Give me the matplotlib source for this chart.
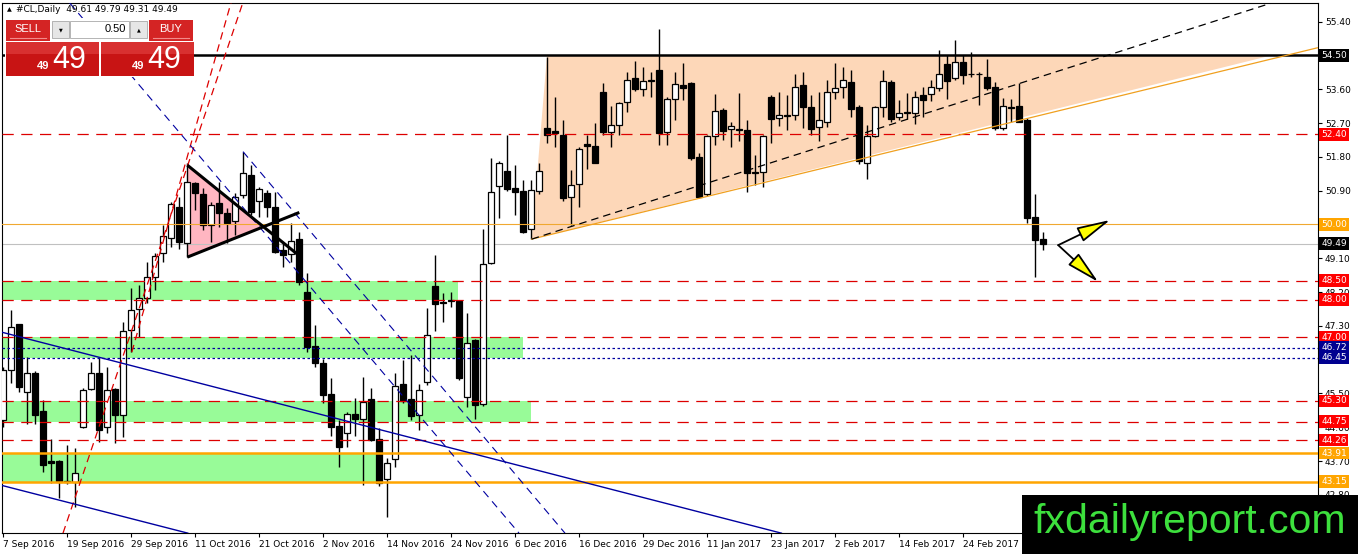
import matplotlib
matplotlib.use('Agg')
import matplotlib.pyplot as plt
from matplotlib.patches import Rectangle, Polygon, FancyArrowPatch
from matplotlib.transforms import blended_transform_factory
import numpy as np

# #CL daily bars, one entry per trading day
opens = [44.79, 46.12, 47.35, 45.55, 46.04, 45.02, 43.70, 43.70, 43.16, 43.15,
	44.62, 45.61, 46.04, 44.62, 45.61, 44.93, 47.19, 47.74, 48.03, 48.61,
	49.23, 49.63, 50.47, 49.50, 51.10, 50.81, 49.99, 50.56, 50.30, 50.08,
	50.79, 51.32, 50.63, 50.83, 50.47, 49.32, 49.21, 49.60, 48.21, 46.76,
	46.30, 45.48, 44.63, 44.44, 44.94, 44.81, 45.34, 44.30, 43.22, 43.75,
	45.74, 45.34, 44.93, 45.81, 48.36, 47.93, 47.98, 47.97, 45.41, 46.92,
	45.22, 48.97, 51.02, 51.43, 50.96, 50.90, 49.87, 50.90, 52.56, 52.49,
	52.38, 50.74, 51.08, 52.13, 52.09, 53.53, 52.47, 52.65, 53.27, 53.89,
	53.60, 53.86, 54.11, 52.47, 53.33, 53.71, 53.76, 51.81, 50.81, 52.36,
	53.05, 52.53, 52.53, 52.52, 51.39, 51.41, 53.40, 52.83, 52.92, 52.92,
	53.71, 53.12, 52.59, 52.74, 53.54, 53.67, 53.80, 53.12, 51.63, 52.36,
	53.12, 53.80, 52.87, 52.99, 52.98, 53.45, 53.47, 53.63, 54.27, 53.89,
	54.33, 54.02, 54.02, 53.92, 53.67, 52.56, 53.13, 53.15, 52.78, 50.19,
	49.61]
highs = [46.20, 47.72, 47.36, 46.48, 46.10, 45.33, 44.30, 43.72, 44.13, 44.04,
	45.64, 46.35, 46.48, 46.21, 45.64, 47.41, 48.30, 48.39, 49.01, 49.23,
	49.99, 50.61, 50.74, 51.63, 51.12, 50.96, 50.61, 51.14, 50.43, 50.83,
	51.94, 51.58, 51.01, 50.92, 50.87, 49.50, 50.03, 49.81, 48.70, 47.32,
	46.41, 45.90, 44.79, 45.01, 45.37, 45.95, 45.64, 44.57, 43.77, 46.04,
	46.39, 46.52, 45.75, 47.77, 49.19, 48.17, 48.21, 48.00, 47.63, 46.95,
	49.87, 51.76, 51.70, 52.38, 51.58, 51.18, 51.18, 51.63, 54.45, 53.40,
	52.78, 51.45, 52.05, 52.38, 52.71, 53.78, 53.15, 53.27, 54.07, 54.36,
	54.20, 54.07, 55.20, 53.40, 54.07, 54.31, 53.80, 51.90, 52.38, 53.47,
	53.09, 52.74, 53.51, 52.78, 51.85, 52.38, 53.45, 53.54, 53.45, 54.02,
	54.07, 53.45, 53.54, 53.86, 54.31, 54.20, 54.11, 53.18, 52.65, 53.15,
	54.11, 53.86, 53.31, 53.49, 53.56, 53.67, 53.85, 54.65, 54.51, 54.91,
	54.51, 54.58, 54.07, 54.40, 53.80, 53.36, 53.33, 53.76, 52.83, 50.81,
	49.79]
lows = [44.60, 45.77, 45.55, 44.70, 44.70, 43.42, 43.11, 42.71, 43.10, 42.48,
	44.57, 45.60, 44.22, 44.44, 44.17, 44.35, 46.61, 47.01, 47.90, 48.26,
	49.01, 49.41, 49.36, 49.14, 50.39, 49.85, 49.54, 49.94, 49.50, 49.72,
	50.70, 50.25, 50.21, 50.21, 49.23, 48.88, 49.01, 48.39, 46.61, 46.20,
	45.24, 44.37, 43.55, 44.08, 44.37, 43.06, 44.24, 43.04, 42.22, 43.53,
	45.25, 44.79, 44.54, 45.72, 47.15, 47.39, 47.81, 45.86, 45.15, 44.81,
	45.17, 48.95, 50.16, 50.90, 50.25, 49.78, 49.60, 50.81, 52.16, 52.07,
	50.63, 49.99, 50.47, 51.49, 51.63, 52.38, 52.05, 52.38, 53.00, 53.56,
	53.42, 53.40, 52.12, 52.12, 52.78, 53.31, 51.72, 50.70, 50.76, 52.12,
	52.25, 52.07, 52.21, 50.87, 51.05, 51.01, 52.16, 52.62, 52.52, 52.78,
	52.56, 52.38, 52.21, 52.59, 53.33, 53.36, 52.87, 51.61, 51.20, 52.34,
	52.87, 52.74, 52.78, 52.80, 52.67, 52.87, 53.30, 53.56, 53.33, 53.85,
	53.74, 53.94, 53.18, 53.58, 52.52, 52.52, 52.74, 52.72, 50.03, 48.59,
	49.31]
closes = [46.12, 47.28, 45.68, 46.04, 44.93, 43.59, 43.66, 43.15, 43.14, 43.37,
	45.59, 46.05, 44.54, 45.59, 44.93, 47.15, 47.72, 48.03, 48.61, 49.16,
	49.68, 50.55, 49.54, 51.14, 50.83, 49.99, 50.52, 50.30, 50.03, 50.74,
	51.38, 50.34, 50.94, 50.47, 49.28, 49.19, 49.57, 48.48, 46.75, 46.32,
	45.46, 44.62, 44.08, 44.94, 44.81, 45.28, 44.26, 43.11, 43.66, 45.71,
	45.31, 44.90, 45.59, 47.06, 47.88, 47.91, 47.96, 45.90, 46.85, 45.19,
	48.95, 50.87, 51.65, 50.94, 50.87, 49.81, 50.92, 51.43, 52.38, 52.43,
	50.71, 51.05, 52.00, 52.09, 51.65, 52.47, 52.65, 53.23, 53.85, 53.61,
	53.82, 53.83, 52.44, 53.33, 53.73, 53.64, 51.76, 50.74, 52.36, 53.03,
	52.50, 52.62, 52.51, 51.36, 51.37, 52.36, 52.80, 52.92, 52.90, 53.67,
	53.14, 52.53, 52.78, 53.54, 53.63, 53.85, 53.07, 51.70, 52.36, 53.12,
	53.83, 52.80, 52.98, 52.96, 53.40, 53.31, 53.67, 54.01, 53.83, 54.33,
	53.98, 54.00, 54.00, 53.63, 52.56, 53.15, 53.11, 52.74, 50.16, 49.59,
	49.49]

# time axis: MT4 labels every 8th bar
date_labels = ['7 Sep 2016', '19 Sep 2016', '29 Sep 2016', '11 Oct 2016',
	'21 Oct 2016', '2 Nov 2016', '14 Nov 2016', '24 Nov 2016', '6 Dec 2016',
	'16 Dec 2016', '29 Dec 2016', '11 Jan 2017', '23 Jan 2017', '2 Feb 2017',
	'14 Feb 2017', '24 Feb 2017']
bars_per_label = 8
price_ticks = [42.80, 43.70, 44.60, 45.50, 46.40, 47.30, 48.20, 49.10,
	50.00, 50.90, 51.80, 52.70, 53.60, 54.50, 55.40]

# horizontal levels
resistance_level = 54.50
bid_level = 49.49
red_levels = [52.40, 48.50, 48.00, 47.00, 45.30, 44.75, 44.26]
blue_levels = [46.72, 46.45]
orange_thin_levels = [50.00]
orange_thick_levels = [43.91, 43.15]

# green support/resistance zones: (low, high, last bar covered)
zone_lows = [48.00, 46.45, 44.75, 43.15]
zone_highs = [48.50, 47.00, 45.30, 43.91]
zone_ends = [56.9, 65.0, 66.0, 46.9]

# drawn objects, anchor points as (bar, price)
red_channel = [[(7.5, 41.78), (30.1, 55.98)], [(16.1, 46.60), (28.6, 55.98)]]
blue_channel = [[(-0.125, 47.13), (97.3, 41.78)], [(-0.125, 43.05), (23.1, 41.78)]]
blue_dashed = [[(30.0, 51.94), (70.25, 41.78)], [(8.33, 55.90), (64.5, 41.78)]]
pennant_fill = [(23.04, 51.58), (23.04, 49.13), (32.55, 49.94)]
pennant_lines = [[(23.04, 51.58), (36.9, 49.19)], [(23.04, 49.13), (37.04, 50.32)]]
wedge_fill = [(68.0, 54.50), (66.09, 49.61), (158.5, 54.50)]
wedge_support = [(66.09, 49.61), (164.4, 54.71)]
wedge_mid = [(66.09, 49.61), (158.6, 55.90)]
arrow_tail = (131.9, 49.45)
arrow_tips = [(138.4, 50.12), (136.9, 48.47)]

header = '#CL,Daily  49.61 49.79 49.31 49.49'
W, H = 1358, 554
RED = '#DD0000'
NAVY = '#0000A0'
ORANGE = '#FFA500'


def drawCandles(ax: plt.Axes) -> None:
	x = np.arange(len(opens))
	o, h, l, c = (np.array(v) for v in (opens, highs, lows, closes))
	ax.vlines(x, l, h, color='black', lw=1, zorder=3)
	bottom = np.minimum(o, c)
	height = np.maximum(np.abs(c - o), 0.012)
	colors = np.where(c >= o, 'white', 'black')
	ax.bar(x, height, bottom=bottom, width=0.66, color=colors,
		edgecolor='black', lw=0.9, zorder=4)


def drawObjects(ax: plt.Axes) -> None:
	for lo, hi, end in zip(zone_lows, zone_highs, zone_ends):
		ax.add_patch(Rectangle((-1, lo), end + 1, hi - lo, color='#98FB98', lw=0, zorder=1))
	ax.add_patch(Polygon(wedge_fill, closed=True, color='#FDD7B8', lw=0, zorder=1))
	ax.add_patch(Polygon(pennant_fill, closed=True, color='#FFB6C1', lw=0, zorder=1))

	ax.axhline(resistance_level, color='black', lw=1.8, zorder=5)
	ax.axhline(bid_level, color='#C0C0C0', lw=0.8, zorder=2)
	for lv in red_levels:
		ax.axhline(lv, color=RED, lw=0.9, dashes=(9, 6), zorder=5)
	for lv in blue_levels:
		ax.axhline(lv, color=NAVY, lw=0.9, dashes=(2, 2), zorder=5)
	for lv in orange_thin_levels:
		ax.axhline(lv, color='#F0A830', lw=0.8, zorder=5)
	for lv in orange_thick_levels:
		ax.axhline(lv, color=ORANGE, lw=1.8, zorder=5)

	for (x0, y0), (x1, y1) in red_channel:
		ax.plot([x0, x1], [y0, y1], color=RED, lw=0.9, dashes=(6, 4), zorder=5)
	for (x0, y0), (x1, y1) in blue_channel:
		ax.plot([x0, x1], [y0, y1], color=NAVY, lw=1.0, zorder=5)
	for (x0, y0), (x1, y1) in blue_dashed:
		ax.plot([x0, x1], [y0, y1], color=NAVY, lw=0.8, dashes=(7, 5), zorder=5)
	ax.plot(*zip(*wedge_support), color='#F0A020', lw=0.9, zorder=5)
	ax.plot(*zip(*wedge_mid), color='black', lw=0.9, dashes=(6, 4), zorder=5)
	for (x0, y0), (x1, y1) in pennant_lines:
		ax.plot([x0, x1], [y0, y1], color='black', lw=2.2, solid_capstyle='butt', zorder=6)

	for tip in arrow_tips:
		ax.add_patch(FancyArrowPatch(arrow_tail, tip,
			arrowstyle='-|>,head_length=1.3,head_width=0.3', mutation_scale=16,
			facecolor='yellow', edgecolor='black', lw=1.3, shrinkA=0, shrinkB=0, zorder=7))


def drawPriceBoxes(ax: plt.Axes) -> None:
	trans = blended_transform_factory(ax.transAxes, ax.transData)
	boxes = [(resistance_level, 'black'), (bid_level, 'black')]
	boxes += [(lv, 'red') for lv in red_levels]
	boxes += [(lv, '#000090') for lv in blue_levels]
	boxes += [(lv, ORANGE) for lv in orange_thin_levels + orange_thick_levels]
	for lv, col in boxes:
		ax.text(1.0024, lv, '%.2f' % lv, transform=trans, ha='left', va='center',
			fontsize=6.5, color='white', clip_on=False, zorder=20,
			bbox=dict(boxstyle='square,pad=0.2', facecolor=col, edgecolor='none'))


def drawTradePanel(ov: plt.Axes) -> None:
	ov.text(9, 10, '▲', fontsize=4.5, ha='center', va='center')
	ov.text(16, 10, header, fontsize=6.5, ha='left', va='center')
	ov.add_patch(Rectangle((5, 18), 189, 59, facecolor='white', edgecolor='none'))
	for x0, label in ((6, 'SELL'), (149, 'BUY')):
		ov.add_patch(Rectangle((x0, 20), 44, 21, facecolor='#D42424', edgecolor='none'))
		ov.plot([x0 + 4, x0 + 40], [38, 38], color='#F28A8A', lw=0.8)
		ov.text(x0 + 22, 29.5, label, fontsize=8, color='white', ha='center', va='center',
			family='Liberation Sans')
	for x0, sym in ((52, '▼'), (130, '▲')):
		ov.add_patch(Rectangle((x0, 21), 17, 17, facecolor='#E6E6E6', edgecolor='#A8A8A8', lw=0.6))
		ov.text(x0 + 8.5, 29.5, sym, fontsize=3.5, ha='center', va='center')
	ov.add_patch(Rectangle((70, 21), 59, 17, facecolor='white', edgecolor='#A8A8A8', lw=0.6))
	ov.text(126, 29.5, '0.50', fontsize=8, ha='right', va='center', family='Liberation Sans')
	for x0 in (6, 101):
		ov.add_patch(Rectangle((x0, 42), 93, 34, facecolor='#C81414', edgecolor='none'))
		ov.add_patch(Rectangle((x0, 42), 93, 12, facecolor='#D83030', edgecolor='none'))
		ov.text(x0 + 43, 66, '49', fontsize=8, fontweight='bold', color='white',
			ha='right', va='center', family='Liberation Sans')
		ov.text(x0 + 46, 59.5, '49', fontsize=22, color='white', ha='left',
			va='center', family='Liberation Sans')


if __name__ == '__main__':
	fig = plt.figure(figsize=(W / 100, H / 100), dpi=100)
	ax = fig.add_axes([2 / W, 1 - 533 / H, 1316 / W, 530 / H])
	ax.set_xlim(-0.125, 164.375)
	ax.set_ylim(41.784, 55.898)

	drawCandles(ax)
	drawObjects(ax)

	# tick labels that sit exactly under a level box are hidden, as on the terminal
	boxed = [resistance_level] + orange_thin_levels
	ax.yaxis.tick_right()
	ax.set_yticks(price_ticks)
	ax.set_yticklabels(['' if p in boxed else '%.2f' % p for p in price_ticks])
	ax.set_xticks(np.arange(len(date_labels)) * bars_per_label)
	ax.set_xticklabels(date_labels)
	for lab in ax.get_xticklabels():
		lab.set_ha('left')
	ax.tick_params(axis='both', direction='out', length=3, width=0.8, pad=2, labelsize=6.5)
	for sp in ax.spines.values():
		sp.set_linewidth(0.8)
	drawPriceBoxes(ax)

	ov = fig.add_axes([0, 0, 1, 1], zorder=10)
	ov.set_xlim(0, W)
	ov.set_ylim(H, 0)
	ov.axis('off')
	drawTradePanel(ov)
	ov.add_patch(Rectangle((1022, 495), 336, 59, facecolor='black', edgecolor='none'))
	ov.text(1190, 522, 'fxdailyreport.com', fontsize=29.5, color='#3DE03D',
		ha='center', va='center', family='Liberation Sans')

	fig.savefig('out.png', dpi=100)
